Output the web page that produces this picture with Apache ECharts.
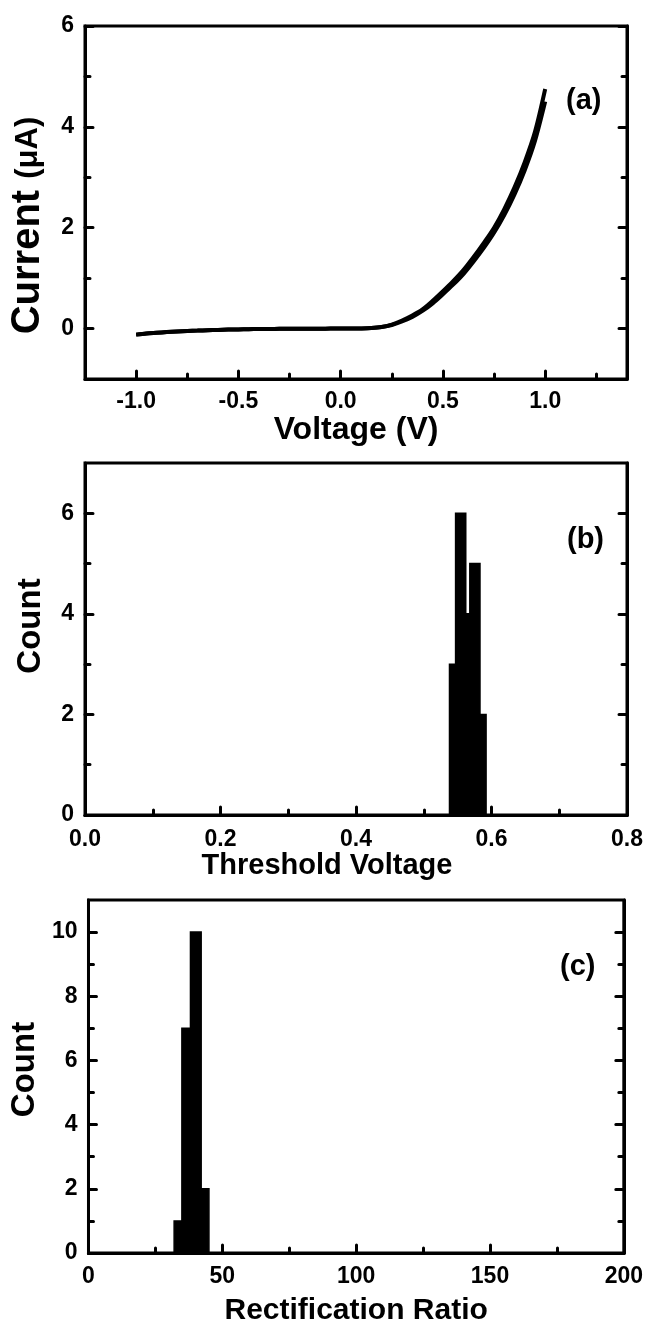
<!DOCTYPE html>
<html>
<head>
<meta charset="utf-8">
<script src="https://cdn.jsdelivr.net/npm/echarts@6/dist/echarts.min.js"></script>
<style>
html,body{margin:0;padding:0;background:#fff;}
#chart{width:646px;height:1339px;}
</style>
</head>
<body>
<div id="chart"></div>
<script>
// ---------- Panel (a): I-V curve ----------
const ivVoltage = [-1.0,-0.95,-0.9,-0.85,-0.8,-0.75,-0.7,-0.65,-0.6,-0.55,-0.5,-0.45,-0.4,-0.35,-0.3,-0.25,-0.2,-0.15,-0.1,-0.05,0.0,0.05,0.1,0.15,0.2,0.25,0.3,0.35,0.4,0.45,0.5,0.55,0.6,0.65,0.7,0.75,0.8,0.85,0.9,0.95,1.0];
const ivCurrentFwd = [-0.12,-0.10,-0.085,-0.07,-0.058,-0.048,-0.04,-0.032,-0.026,-0.02,-0.016,-0.012,-0.01,-0.008,-0.006,-0.005,-0.004,-0.003,-0.002,-0.001,0.0,0.001,0.003,0.01,0.03,0.08,0.16,0.26,0.38,0.55,0.74,0.94,1.16,1.42,1.70,2.00,2.37,2.80,3.30,3.90,4.75];
const ivCurrentRev = [-0.12,-0.10,-0.085,-0.07,-0.058,-0.048,-0.04,-0.032,-0.026,-0.02,-0.016,-0.012,-0.01,-0.008,-0.006,-0.005,-0.004,-0.003,-0.002,-0.001,0.0,0.001,0.003,0.01,0.03,0.07,0.14,0.23,0.35,0.50,0.68,0.87,1.08,1.33,1.60,1.90,2.25,2.66,3.14,3.72,4.50];
const aXLabels = [-1.0,-0.5,0.0,0.5,1.0];
const aXMinor = [-0.75,-0.25,0.25,0.75,1.25];
const aYLabels = [0,2,4,6];
const aYMinor = [1,3,5];

// ---------- Panel (b): threshold voltage histogram ----------
const vthBinStart = [0.538,0.547,0.562,0.568,0.583];
const vthBinEnd   = [0.547,0.562,0.568,0.583,0.592];
const vthCount    = [3,6,4,5,2];
const bXLabels = [0.0,0.2,0.4,0.6,0.8];
const bXMinor = [0.1,0.3,0.5,0.7];
const bYLabels = [0,2,4,6];
const bYMinor = [1,3,5];

// ---------- Panel (c): rectification ratio histogram ----------
const rrBinStart = [32.0,34.9,38.1,42.1];
const rrBinEnd   = [34.9,38.1,42.1,45.0];
const rrCount    = [1,7,10,2];
const cXLabels = [0,50,100,150,200];
const cXMinor = [25,75,125,175];
const cYLabels = [0,2,4,6,8,10];
const cYMinor = [1,3,5,7,9];

const FONT = "'Liberation Sans', Arial, Helvetica, sans-serif";
const BLACK = '#000';

const grids = [
  {left:84, top:26, width:543, height:353},
  {left:85, top:463, width:542, height:352},
  {left:86, top:900, width:541, height:353}
];

const xAxes = [], yAxes = [];
function tickStyle(){ return {color:BLACK, width:3, cap:'round'}; }
function labelStyle(vals, fmt, margin){
  return {customValues: vals, formatter: fmt, color:BLACK, fontSize:23, fontWeight:'bold', fontFamily:FONT, margin:margin};
}
function addPanel(gi, cfg){
  const xi = xAxes.length;
  xAxes.push({
    gridIndex:gi, type:'value', min:cfg.xmin, max:cfg.xmax, position:'bottom',
    axisLine:{show:true, onZero:false, lineStyle:{color:BLACK, width:3}},
    axisTick:{show:true, inside:true, length:8, customValues:cfg.xMajor, lineStyle:tickStyle()},
    axisLabel:labelStyle(cfg.xLabels, cfg.xFmt, cfg.xMargin),
    splitLine:{show:false},
    name:cfg.xName, nameLocation:'middle', nameGap:cfg.xNameGap,
    nameTextStyle:cfg.xNameStyle
  });
  xAxes.push({
    gridIndex:gi, type:'value', min:cfg.xmin, max:cfg.xmax, position:'bottom', offset:0,
    axisLine:{show:false, onZero:false},
    axisTick:{show:true, inside:true, length:5, customValues:cfg.xMinor, lineStyle:tickStyle()},
    axisLabel:{show:false}, splitLine:{show:false}
  });
  const yi = yAxes.length;
  yAxes.push({
    gridIndex:gi, type:'value', min:cfg.ymin, max:cfg.ymax, position:'left',
    axisLine:{show:true, onZero:false, lineStyle:{color:BLACK, width:3}},
    axisTick:{show:true, inside:true, length:8, customValues:cfg.yLabels, lineStyle:tickStyle()},
    axisLabel:labelStyle(cfg.yLabels, v => String(v), 11),
    splitLine:{show:false},
    name:cfg.yName, nameLocation:'middle', nameGap:cfg.yNameGap,
    nameTextStyle:cfg.yNameStyle
  });
  yAxes.push({
    gridIndex:gi, type:'value', min:cfg.ymin, max:cfg.ymax, position:'left', offset:0,
    axisLine:{show:false, onZero:false},
    axisTick:{show:true, inside:true, length:5, customValues:cfg.yMinor, lineStyle:tickStyle()},
    axisLabel:{show:false}, splitLine:{show:false}
  });
  yAxes.push({
    gridIndex:gi, type:'value', min:cfg.ymin, max:cfg.ymax, position:'right', offset:0,
    axisLine:{show:true, onZero:false, lineStyle:{color:BLACK, width:3}},
    axisTick:{show:true, inside:true, length:8, customValues:cfg.yLabels, lineStyle:tickStyle()},
    axisLabel:{show:false}, splitLine:{show:false}
  });
  yAxes.push({
    gridIndex:gi, type:'value', min:cfg.ymin, max:cfg.ymax, position:'right', offset:0,
    axisLine:{show:false, onZero:false},
    axisTick:{show:true, inside:true, length:5, customValues:cfg.yMinor, lineStyle:tickStyle()},
    axisLabel:{show:false}, splitLine:{show:false}
  });
  return {xi, yi};
}

function nameStyle(size, padding){
  return {color:BLACK, fontSize:size, fontWeight:'bold', fontFamily:FONT, padding:padding};
}

const pa = addPanel(0, {
  xmin:-1.25, xmax:1.4, xLabels:aXLabels, xMajor:aXLabels, xMinor:aXMinor, xFmt:v=>v.toFixed(1), xMargin:11,
  xName:'Voltage (V)', xNameGap:31, xNameStyle:nameStyle(32, 0),
  ymin:-1, ymax:6, yLabels:aYLabels, yMinor:aYMinor,
  yName:'{a|Current }{b|(μA)}', yNameGap:37,
  yNameStyle:{color:BLACK, fontFamily:FONT, fontWeight:'bold', padding:[0,46,0,0], rich:{
    a:{fontSize:40, fontWeight:'bold', fontFamily:FONT, color:BLACK},
    b:{fontSize:31, fontWeight:'bold', fontFamily:FONT, color:BLACK}
  }}
});
const pb = addPanel(1, {
  xmin:0, xmax:0.8, xLabels:bXLabels, xMajor:bXLabels, xMinor:bXMinor, xFmt:v=>v.toFixed(1), xMargin:13,
  xName:'Threshold Voltage', xNameGap:36, xNameStyle:nameStyle(29, [0,58,0,0]),
  ymin:0, ymax:7, yLabels:bYLabels, yMinor:bYMinor,
  yName:'Count', yNameGap:38, yNameStyle:nameStyle(33, [0,0,0,26])
});
const pc = addPanel(2, {
  xmin:0, xmax:200, xLabels:cXLabels, xMajor:cXLabels, xMinor:cXMinor, xFmt:v=>String(v), xMargin:12,
  xName:'Rectification Ratio', xNameGap:43, xNameStyle:nameStyle(30, 0),
  ymin:0, ymax:11, yLabels:cYLabels, yMinor:cYMinor,
  yName:'Count', yNameGap:38, yNameStyle:nameStyle(33, [0,0,0,14])
});

function histRender(params, api){
  const p0 = api.coord([api.value(0), api.value(2)]);
  const p1 = api.coord([api.value(1), 0]);
  return {type:'rect', shape:{x:p0[0], y:p0[1], width:p1[0]-p0[0], height:p1[1]-p0[1]},
          style:{fill:BLACK, stroke:BLACK, lineWidth:1.5}};
}

const option = {
  backgroundColor:'#fff',
  animation:false,
  grid: grids.map(g => Object.assign({show:true, borderColor:BLACK, borderWidth:3, backgroundColor:'transparent', containLabel:false}, g)),
  xAxis: xAxes,
  yAxis: yAxes,
  graphic: [
    {type:'text', left:566, top:86, style:{text:'(a)', fill:BLACK, font:"bold 29px " + FONT}},
    {type:'text', left:567, top:525, style:{text:'(b)', fill:BLACK, font:"bold 29px " + FONT}},
    {type:'text', left:560, top:952, style:{text:'(c)', fill:BLACK, font:"bold 29px " + FONT}}
  ],
  series: [
    {type:'line', xAxisIndex:pa.xi, yAxisIndex:pa.yi, data: ivVoltage.map((v,i)=>[v, ivCurrentRev[i]]),
     showSymbol:false, smooth:0.3, lineStyle:{color:BLACK, width:4}, z:3},
    {type:'line', xAxisIndex:pa.xi, yAxisIndex:pa.yi, data: ivVoltage.map((v,i)=>[v, ivCurrentFwd[i]]),
     showSymbol:false, smooth:0.3, lineStyle:{color:BLACK, width:4}, z:3},
    {type:'custom', xAxisIndex:pb.xi, yAxisIndex:pb.yi, renderItem:histRender,
     encode:{x:[0,1], y:2}, data: vthBinStart.map((s,i)=>[s, vthBinEnd[i], vthCount[i]])},
    {type:'custom', xAxisIndex:pc.xi, yAxisIndex:pc.yi, renderItem:histRender,
     encode:{x:[0,1], y:2}, data: rrBinStart.map((s,i)=>[s, rrBinEnd[i], rrCount[i]])}
  ]
};

const chart = echarts.init(document.getElementById('chart'), null, {renderer:'canvas', width:646, height:1339});
chart.setOption(option);
</script>
</body>
</html>
